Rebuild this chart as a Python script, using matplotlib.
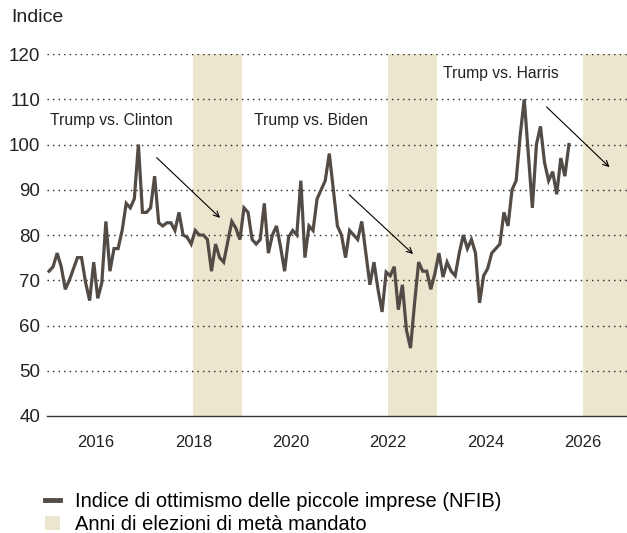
import matplotlib.pyplot as plt
from matplotlib.lines import Line2D
from matplotlib.patches import Patch

plt.rcParams['font.family'] = ['Liberation Sans', 'DejaVu Sans']

# NFIB index, monthly from Jan 2015 to Sep 2025
start_year = 2015
nfib = [
    72, 73, 76, 73, 68, 70, 72.5, 75, 75, 69.5, 65.5, 74,
    66, 69.5, 83, 72, 77, 77, 81, 87, 86, 88, 100, 85,
    85, 86, 93, 82.7, 82, 82.7, 82.7, 81, 85, 80, 79.5, 78,
    81, 80, 80, 79, 72, 78, 75, 74, 78.5, 83, 81.5, 79,
    86, 85, 79, 78, 79, 87, 76, 80, 82, 77.4, 72, 79.6,
    81, 80, 92, 75, 82, 81, 88, 90, 92, 98, 90, 82,
    80, 75, 81, 80, 79, 83, 76, 69, 74, 68, 63, 71.8,
    71, 73, 63.5, 69, 59, 55, 65, 74, 72, 72, 68, 71.5,
    76, 70.7, 74, 72, 71, 76, 80, 77, 79, 76, 65, 71,
    72.6, 76, 77, 78, 85, 82, 90, 92, 102, 110, 98, 86,
    100, 104, 96, 92, 94, 89, 97, 93, 100,
]
midterm_years = [2018, 2022, 2026]
year_ticks = [2016, 2018, 2020, 2022, 2024, 2026]
y_ticks = [40, 50, 60, 70, 80, 90, 100, 110, 120]

labels = ["Trump vs. Clinton", "Trump vs. Biden", "Trump vs. Harris"]
label_pos = [(2015.06, 105.2), (2019.25, 105.2), (2023.12, 115.8)]
arrows = [((2017.25, 97.1), (2018.55, 83.8)),
          ((2021.20, 88.9), (2022.51, 75.8)),
          ((2025.25, 108.3), (2026.54, 95.0))]

line_col = "#524b46"
band_col = "#ece6cf"

t = [start_year + (i + 0.5) / 12 for i in range(len(nfib))]

fig = plt.figure(figsize=(6.27, 5.33), dpi=100)
ax = fig.add_axes([47 / 627, 1 - 416 / 533, 1 - 47 / 627, (416 - 54) / 533])

for y in midterm_years:
    ax.axvspan(y, y + 1, color=band_col, lw=0, zorder=0)

for v in y_ticks[1:]:
    ax.axhline(v, color="#222222", lw=1.0, ls=(0, (1, 3)), zorder=1)

ax.plot(t, nfib, color=line_col, lw=2.3, zorder=3, solid_joinstyle="miter")

for txt, (x, y) in zip(labels, label_pos):
    ax.text(x, y, txt, fontsize=11.3, va="center", ha="left", color="#222222")

for (x0, y0), (x1, y1) in arrows:
    ax.annotate("", xy=(x1, y1), xytext=(x0, y0),
                arrowprops=dict(arrowstyle="->", color="black", lw=0.8,
                                shrinkA=0, shrinkB=0, mutation_scale=10))

ax.set_xlim(2015.0, 2026.9)
ax.set_ylim(40, 120)
ax.set_xticks(year_ticks)
ax.set_yticks(y_ticks)
ax.tick_params(axis="x", length=0, pad=14, labelsize=12, labelcolor="#222222")
ax.tick_params(axis="y", length=0, pad=5, labelsize=13.5, labelcolor="#222222")
for s in ["top", "right", "left"]:
    ax.spines[s].set_visible(False)
ax.spines["bottom"].set_color("#333333")
ax.spines["bottom"].set_linewidth(1.0)

fig.text(11 / 627, 1 - 17 / 533, "Indice", fontsize=14, va="center", ha="left",
         color="#222222")

handles = [Line2D([0], [0], color=line_col, lw=3.5),
           Patch(facecolor=band_col, edgecolor="none")]
fig.legend(handles, ["Indice di ottimismo delle piccole imprese (NFIB)",
                     "Anni di elezioni di metà mandato"],
           loc="upper left", bbox_to_anchor=(45 / 627, 1 - 492 / 533), frameon=False,
           fontsize=14.5, handlelength=0.75, handleheight=0.75, handletextpad=0.75,
           labelspacing=0.2, borderaxespad=0, borderpad=0)

fig.savefig("out.png", dpi=100)
